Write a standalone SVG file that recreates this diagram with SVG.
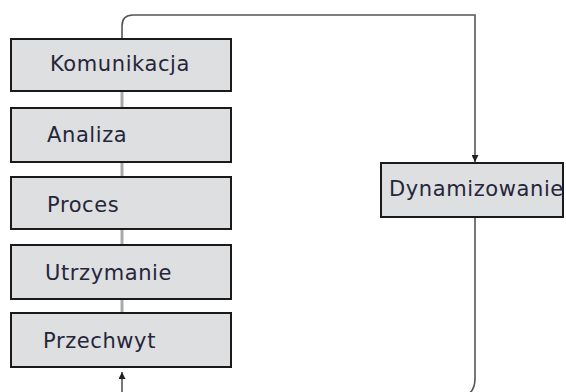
<svg xmlns="http://www.w3.org/2000/svg" width="566" height="392" viewBox="0 0 566 392">
<style>
.box{fill:#dedfe1;stroke:#1a1a1a;stroke-width:2}
.lbl{font-family:"DejaVu Sans",Verdana,sans-serif;font-size:21px;letter-spacing:0.6px;fill:#26263a}
.conn{fill:none;stroke:#555;stroke-width:1.6}
.spine{fill:none;stroke:#aaa;stroke-width:3}
</style>
<defs>
<marker id="ah" viewBox="0 0 10 10" refX="10" refY="5" markerWidth="7" markerHeight="7" markerUnits="userSpaceOnUse" orient="auto">
<path d="M0,0 L10,5 L0,10 z" fill="#222"/>
</marker>
</defs>
<g id="connectors">
<line class="spine" x1="122" y1="91" x2="122" y2="313"/>
<path class="conn" d="M122,39 V26 Q122,15 133,15 H475 V162" marker-end="url(#ah)"/>
<path class="conn" d="M475,217 V378 Q475,396 460,396 H122 V372" marker-end="url(#ah)"/>
</g>
<g id="komunikacja"><rect class="box" x="11" y="39" width="220" height="52"/><text class="lbl" x="50" y="71">Komunikacja</text></g>
<g id="analiza"><rect class="box" x="11" y="108" width="220" height="54"/><text class="lbl" x="47" y="142">Analiza</text></g>
<g id="proces"><rect class="box" x="11" y="177" width="220" height="52"/><text class="lbl" x="47" y="212">Proces</text></g>
<g id="utrzymanie"><rect class="box" x="11" y="245" width="220" height="54"/><text class="lbl" x="45" y="280">Utrzymanie</text></g>
<g id="przechwyt"><rect class="box" x="11" y="313" width="220" height="54"/><text class="lbl" x="43" y="348">Przechwyt</text></g>
<g id="dynamizowanie"><rect class="box" x="381" y="163" width="182" height="54"/><text class="lbl" x="389" y="196">Dynamizowanie</text></g>
</svg>
